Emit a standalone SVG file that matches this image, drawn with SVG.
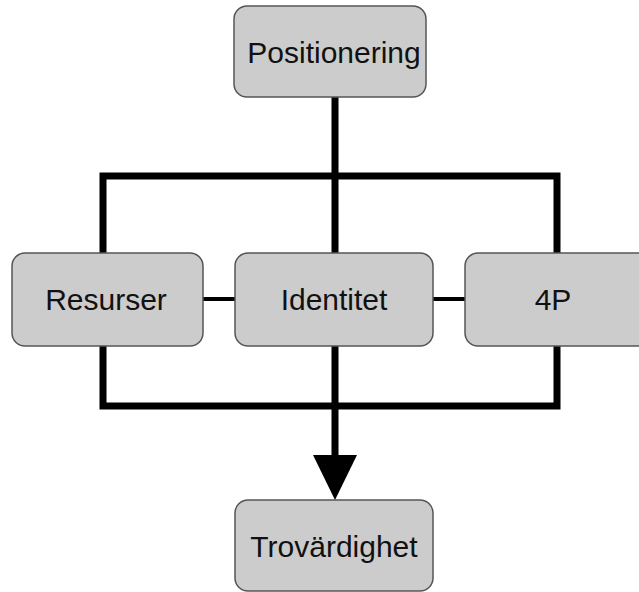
<svg xmlns="http://www.w3.org/2000/svg" width="639" height="592" viewBox="0 0 639 592">
<style>
.box{fill:#cccccc;stroke:#555555;stroke-width:1.5}
.lbl{font-family:"Liberation Sans",Arial,sans-serif;font-size:30px;fill:#111111;text-anchor:middle}
.thick{stroke:#000;stroke-width:7;fill:none}
.thin{stroke:#000;stroke-width:4;fill:none}
</style>
<rect width="639" height="592" fill="#ffffff"/>
<g id="connectors">
<line class="thick" x1="335" y1="97" x2="335" y2="253"/>
<polyline class="thick" points="103,253 103,176 557,176 557,253"/>
<polyline class="thick" points="103,346 103,406 557,406 557,346"/>
<line class="thick" x1="335" y1="346" x2="335" y2="458"/>
<polygon points="313,455 357,455 335,500" fill="#000"/>
<line class="thin" x1="203" y1="299" x2="235" y2="299"/>
<line class="thin" x1="433" y1="299" x2="465" y2="299"/>
</g>
<g id="positionering">
<rect class="box" x="234" y="6" width="192" height="91" rx="13"/>
<text class="lbl" x="334" y="63">Positionering</text>
</g>
<g id="resurser">
<rect class="box" x="12" y="253" width="191" height="93" rx="13"/>
<text class="lbl" x="106" y="310">Resurser</text>
</g>
<g id="identitet">
<rect class="box" x="235" y="253" width="198" height="93" rx="13"/>
<text class="lbl" x="334" y="310">Identitet</text>
</g>
<g id="fourp">
<rect class="box" x="465" y="253" width="200" height="93" rx="13"/>
<text class="lbl" x="553" y="310">4P</text>
</g>
<g id="trovardighet">
<rect class="box" x="235" y="500" width="198" height="91" rx="13"/>
<text class="lbl" x="334" y="557">Trovärdighet</text>
</g>
</svg>
